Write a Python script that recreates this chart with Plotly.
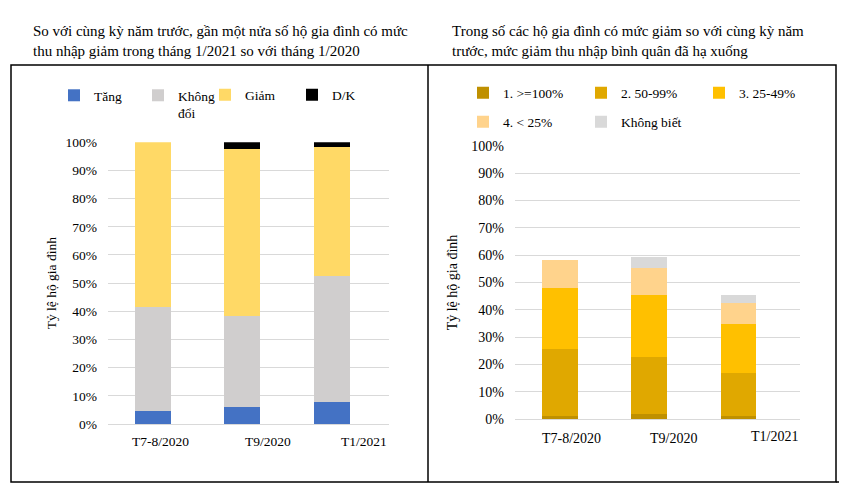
import plotly.graph_objects as go

W, H = 847, 485
FONT = "Liberation Serif"
PAGE_MARGIN = 8  # default body margin of the html page

# ---------------- data ----------------
periods = ["T7-8/2020", "T9/2020", "T1/2021"]

left_title = "So với cùng kỳ năm trước, gần một nửa số hộ gia đình có mức<br>thu nhập giảm trong tháng 1/2021 so với tháng 1/2020"
right_title = "Trong số các hộ gia đình có mức giảm so với cùng kỳ năm<br>trước, mức giảm thu nhập bình quân đã hạ xuống"
y_title = "Tỷ lệ hộ gia đình"

left_names = ["Tăng", "Không<br>đổi", "Giảm", "D/K"]
tang = [4.7, 6.1, 7.7]
khong_doi = [36.7, 32.4, 45.0]
giam = [58.6, 59.1, 45.6]
dk = [0.0, 2.4, 1.7]

right_names = ["1. >=100%", "2. 50-99%", "3. 25-49%", "4. < 25%", "Không biết"]
r_100 = [1.3, 1.8, 1.1]
r_50_99 = [24.3, 21.0, 15.8]
r_25_49 = [22.4, 22.8, 18.1]
r_lt25 = [10.3, 9.7, 7.5]
r_kb = [0.0, 3.9, 3.1]

y_ticks = [0, 10, 20, 30, 40, 50, 60, 70, 80, 90, 100]
y_tick_labels = ["0%", "10%", "20%", "30%", "40%", "50%", "60%", "70%", "80%", "90%", "100%"]

# ---------------- styles ----------------
left_colors = ["#4472C4", "#D0CECE", "#FFD966", "#000000"]
right_colors = ["#BF9000", "#E0A800", "#FFC000", "#FFD38C", "#D9D9D9"]
left_legends = ["legend", "legend", "legend2", "legend2"]
right_legends = ["legend3", "legend3", "legend3", "legend4", "legend4"]
left_label_shift = [8, 26, 32]
right_label_shift = [12, 24, 36]
right_label_y = [438, 438, 436]


def px(x):
    return (x - PAGE_MARGIN) / W


def py(y):
    return 1 - (y - PAGE_MARGIN) / H


fig = go.Figure()

for name, vals, col, lg in zip(left_names, [tang, khong_doi, giam, dk], left_colors, left_legends):
    fig.add_trace(go.Bar(x=periods, y=vals, name=name, marker=dict(color=col, line=dict(width=0)),
                         xaxis="x", yaxis="y", legend=lg))

for name, vals, col, lg in zip(right_names, [r_100, r_50_99, r_25_49, r_lt25, r_kb], right_colors, right_legends):
    fig.add_trace(go.Bar(x=periods, y=vals, name=name, marker=dict(color=col, line=dict(width=0)),
                         xaxis="x2", yaxis="y2", legend=lg))

grid = "#D9D9D9"
common_y = dict(range=[0, 100], tickmode="array", tickvals=y_ticks, ticktext=y_tick_labels,
                showgrid=True, gridcolor=grid, gridwidth=1.3, zeroline=False, showline=False,
                ticks="", ticklabelstandoff=10, fixedrange=True, automargin=False)
common_x = dict(showgrid=False, showline=True, linecolor=grid, linewidth=1.3, ticks="",
                showticklabels=False, fixedrange=True, automargin=False)

fig.update_layout(
    width=W, height=H,
    margin=dict(l=0, r=0, t=0, b=0, pad=0, autoexpand=False),
    paper_bgcolor="white", plot_bgcolor="white",
    barmode="stack", bargap=0.6,
    font=dict(family=FONT, color="#000000", size=13.5),
    xaxis=dict(domain=[px(108), px(389)], anchor="y", **common_x),
    yaxis=dict(domain=[py(424), py(142.3)], anchor="x",
               tickfont=dict(size=13.5, family=FONT, color="#000"),
               title=dict(text=y_title, font=dict(size=13.5, family=FONT), standoff=5),
               **common_y),
    xaxis2=dict(domain=[px(515), px(800)], anchor="y2", **common_x),
    yaxis2=dict(domain=[py(419.3), py(145.7)], anchor="x2",
                tickfont=dict(size=14, family=FONT, color="#000"),
                title=dict(text=y_title, font=dict(size=14, family=FONT), standoff=10),
                **common_y),
    legend=dict(orientation="h", x=px(54), y=py(80), xanchor="left", yanchor="top",
                entrywidth=39, entrywidthmode="pixels", valign="top", traceorder="normal",
                bgcolor="rgba(0,0,0,0)", font=dict(size=13.5, family=FONT)),
    legend2=dict(orientation="h", x=px(205), y=py(95), xanchor="left", yanchor="middle",
                 entrywidth=42, entrywidthmode="pixels", traceorder="normal",
                 bgcolor="rgba(0,0,0,0)", font=dict(size=13.5, family=FONT)),
    legend3=dict(orientation="h", x=px(463), y=py(93), xanchor="left", yanchor="middle",
                 entrywidth=73, entrywidthmode="pixels", traceorder="normal",
                 bgcolor="rgba(0,0,0,0)", font=dict(size=13.5, family=FONT)),
    legend4=dict(orientation="h", x=px(463), y=py(122), xanchor="left", yanchor="middle",
                 entrywidth=73, entrywidthmode="pixels", traceorder="normal",
                 bgcolor="rgba(0,0,0,0)", font=dict(size=13.5, family=FONT)),
    showlegend=True,
)

# titles
fig.add_annotation(text=left_title, x=px(31), y=py(21), xref="paper", yref="paper",
                   xanchor="left", yanchor="top", align="left", showarrow=False,
                   font=dict(size=15, family=FONT, color="#000"))
fig.add_annotation(text=right_title, x=px(450), y=py(21), xref="paper", yref="paper",
                   xanchor="left", yanchor="top", align="left", showarrow=False,
                   font=dict(size=15, family=FONT, color="#000"))

# category labels (placed like the original text boxes)
for p, s in zip(periods, left_label_shift):
    fig.add_annotation(text=p, x=p, xref="x", y=py(441), yref="paper", xshift=s,
                       showarrow=False, yanchor="middle", font=dict(size=13.5, family=FONT, color="#000"))
for p, s, yy in zip(periods, right_label_shift, right_label_y):
    fig.add_annotation(text=p, x=p, xref="x2", y=py(yy), yref="paper", xshift=s,
                       showarrow=False, yanchor="middle", font=dict(size=14, family=FONT, color="#000"))

# panel borders
fig.add_shape(type="rect", xref="paper", yref="paper", x0=px(11), x1=px(836), y0=py(482), y1=py(65),
              line=dict(color="black", width=1.5), fillcolor="rgba(0,0,0,0)", layer="above")
fig.add_shape(type="line", xref="paper", yref="paper", x0=px(428), x1=px(428), y0=py(482), y1=py(65),
              line=dict(color="black", width=1.5))
fig.add_shape(type="line", xref="paper", yref="paper", x0=px(836), x1=px(843), y0=py(482), y1=py(482),
              line=dict(color="black", width=1.5))

fig.write_html("out.html")
